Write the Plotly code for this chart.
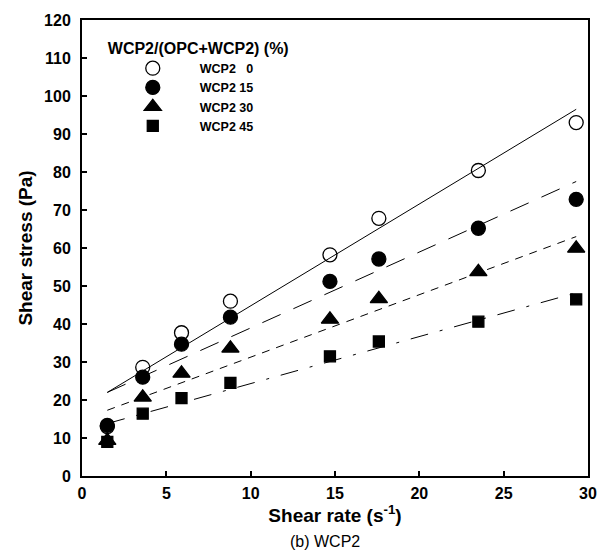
import plotly.graph_objects as go

shear_rate = [1.5, 3.6, 5.9, 8.8, 14.7, 17.6, 23.5, 29.3]
series_names = ["WCP2   0", "WCP2 15", "WCP2 30", "WCP2 45"]
stress_0 = [13.0, 28.6, 37.7, 46.0, 58.2, 67.8, 80.4, 93.0]
stress_15 = [13.3, 26.0, 34.7, 41.8, 51.2, 57.1, 65.2, 72.8]
stress_30 = [9.3, 20.7, 27.0, 33.6, 41.2, 46.6, 53.7, 59.9]
stress_45 = [9.0, 16.4, 20.5, 24.5, 31.5, 35.4, 40.6, 46.5]

fit_x = [1.5, 29.3]
fit_0 = [22.0, 96.5]
fit_15 = [22.0, 77.5]
fit_30 = [17.3, 63.0]
fit_45 = [13.8, 48.2]

x_ticks = [0, 5, 10, 15, 20, 25, 30]
y_ticks = [0, 10, 20, 30, 40, 50, 60, 70, 80, 90, 100, 110, 120]

FONT = "Liberation Sans, Arial, sans-serif"

fig = go.Figure()

fit_styles = [
    (fit_0, "solid"),
    (fit_15, "20px,14px"),
    (fit_30, "8px,7px"),
    (fit_45, "18px,12px,3px,12px"),
]
for fy, dash in fit_styles:
    fig.add_trace(go.Scatter(x=fit_x, y=fy, mode="lines",
                             line=dict(color="black", width=1, dash=dash),
                             showlegend=False, hoverinfo="skip"))

marker_styles = [
    (stress_0, "circle-open", 14),
    (stress_15, "circle", 14),
    (stress_30, "triangle-up", 15),
    (stress_45, "square", 11),
]
for name, (ys, sym, sz) in zip(series_names, marker_styles):
    fig.add_trace(go.Scatter(x=shear_rate, y=ys, mode="markers", name=name,
                             marker=dict(symbol=sym, size=sz, color="black",
                                         line=dict(color="black", width=1.3))))

axis_common = dict(showline=True, linecolor="black", linewidth=2, mirror=True,
                   ticks="inside", ticklen=5, tickcolor="black", tickwidth=1.5,
                   showgrid=False, zeroline=False,
                   tickfont=dict(family=FONT, size=16, color="black", weight="bold"))

fig.update_xaxes(range=[0, 30], tickvals=x_ticks, ticklabelstandoff=2,
                 title=dict(text="Shear rate (s<sup>-1</sup>)", standoff=2,
                            font=dict(family=FONT, size=19, color="black", weight="bold")),
                 **axis_common)
fig.update_yaxes(range=[0, 120], tickvals=y_ticks, ticklabelstandoff=6,
                 title=dict(text="Shear stress (Pa)", standoff=6,
                            font=dict(family=FONT, size=19, color="black", weight="bold")),
                 **axis_common)

fig.update_layout(
    width=609, height=556,
    margin=dict(l=82, r=17, t=17, b=80),
    plot_bgcolor="white", paper_bgcolor="white",
    legend=dict(x=0.047, y=0.972, xanchor="left", yanchor="top",
                bgcolor="rgba(0,0,0,0)", itemwidth=84, tracegroupgap=0,
                title=dict(text="WCP2/(OPC+WCP2) (%)",
                           font=dict(family=FONT, size=16, color="black", weight="bold")),
                font=dict(family=FONT, size=12.5, color="black", weight="bold")),
    annotations=[dict(text="(b) WCP2", xref="paper", yref="paper", x=0.48, y=-0.143,
                      xanchor="center", yanchor="middle", showarrow=False,
                      font=dict(family=FONT, size=16, color="black"))],
)

fig.write_html("out.html")
